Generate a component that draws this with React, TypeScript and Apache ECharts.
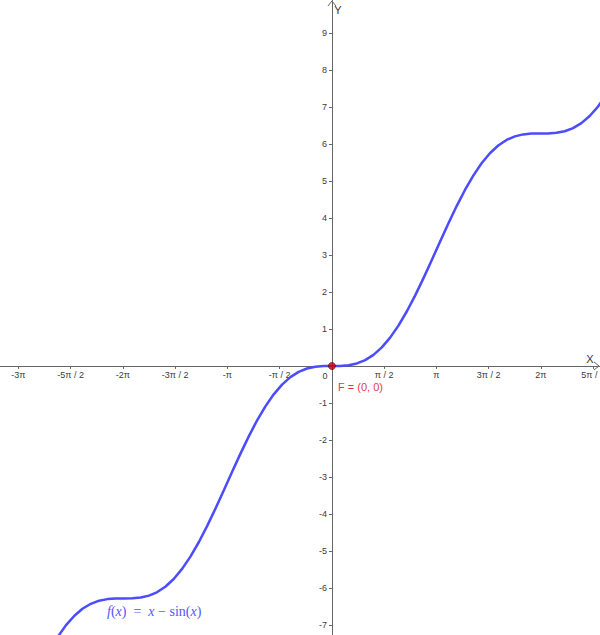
import React, { useEffect, useRef } from "react";
import * as echarts from "echarts";

const PI = Math.PI;

// Axis extents
const X_MIN = -9.98;
const X_MAX = 8.06;
const Y_MIN = -7.27;
const Y_MAX = 9.89;

// X ticks in multiples of pi
const X_TICK_VALUES = [-3 * PI, -2.5 * PI, -2 * PI, -1.5 * PI, -PI, -0.5 * PI, 0.5 * PI, PI, 1.5 * PI, 2 * PI, 2.5 * PI];
const X_TICK_LABELS = ["-3π", "-5π / 2", "-2π", "-3π / 2", "-π", "-π / 2", "π / 2", "π", "3π / 2", "2π", "5π / 2"];

const Y_TICK_VALUES = [-7, -6, -5, -4, -3, -2, -1, 1, 2, 3, 4, 5, 6, 7, 8, 9];

// Sampled points of the plotted curve f(x) = x - sin(x)
const CURVE_X = [
  -8.25, -8, -7.75, -7.5, -7.25, -7, -6.75, -6.5, -6.25, -6, -5.75, -5.5, -5.25, -5, -4.75, -4.5, -4.25, -4,
  -3.75, -3.5, -3.25, -3, -2.75, -2.5, -2.25, -2, -1.75, -1.5, -1.25, -1, -0.75, -0.5, -0.25, 0,
  0.25, 0.5, 0.75, 1, 1.25, 1.5, 1.75, 2, 2.25, 2.5, 2.75, 3, 3.25, 3.5, 3.75, 4,
  4.25, 4.5, 4.75, 5, 5.25, 5.5, 5.75, 6, 6.25, 6.5, 6.75, 7, 7.25, 7.5, 7.75, 8, 8.25,
];
const CURVE_Y = [
  -7.3277, -7.0106, -6.7554, -6.562, -6.4269, -6.343, -6.3, -6.2849, -6.2832, -6.2794, -6.2582, -6.2055, -6.1089,
  -5.9589, -5.7493, -5.4775, -5.145, -4.7568, -4.3216, -3.8508, -3.3582, -2.8589, -2.3683, -1.9015, -1.4719,
  -1.0907, -0.766, -0.5025, -0.301, -0.1585, -0.0684, -0.0206, -0.0026, 0,
  0.0026, 0.0206, 0.0684, 0.1585, 0.301, 0.5025, 0.766, 1.0907, 1.4719, 1.9015, 2.3683, 2.8589, 3.3582, 3.8508,
  4.3216, 4.7568, 5.145, 5.4775, 5.7493, 5.9589, 6.1089, 6.2055, 6.2582, 6.2794, 6.2832, 6.2849, 6.3, 6.343,
  6.4269, 6.562, 6.7554, 7.0106, 7.3277,
];

const POINT_F = [0, 0];
const POINT_LABEL = "F = (0, 0)";

const AXIS_COLOR = "#666666";
const LABEL_COLOR = "#3a3a3a";
const CURVE_COLOR = "#4b4bff";
const POINT_COLOR = "#d40000";

const W = 600;
const H = 635;

function labelForX(v: number): string {
  let best = 0;
  let bd = Infinity;
  X_TICK_VALUES.forEach((t, i) => {
    const d = Math.abs(t - v);
    if (d < bd) {
      bd = d;
      best = i;
    }
  });
  return X_TICK_LABELS[best];
}

export default function App() {
  const ref = useRef<HTMLDivElement>(null);

  useEffect(() => {
    if (!ref.current) return;
    const chart = echarts.init(ref.current, undefined, { renderer: "svg" });
    const font = "'Liberation Sans', Arial, sans-serif";
    // place the axes through the origin using offsets from the grid edges
    const xAxisOffset = -(H * (0 - Y_MIN)) / (Y_MAX - Y_MIN);
    const yAxisOffset = -(W * (0 - X_MIN)) / (X_MAX - X_MIN);
    chart.setOption({
      animation: false,
      backgroundColor: "#ffffff",
      grid: { left: 0, right: 0, top: 0, bottom: 0, containLabel: false, outerBoundsMode: "none" },
      xAxis: {
        type: "value",
        position: "bottom",
        offset: xAxisOffset,
        min: X_MIN,
        max: X_MAX,
        splitLine: { show: false },
        axisLine: { show: true, onZero: false, lineStyle: { color: AXIS_COLOR, width: 1 } },
        axisTick: { show: true, customValues: X_TICK_VALUES, length: 3, lineStyle: { color: AXIS_COLOR } },
        axisLabel: {
          show: true,
          customValues: X_TICK_VALUES,
          formatter: (v: number) => labelForX(v),
          color: LABEL_COLOR,
          fontSize: 9,
          fontFamily: font,
          margin: 5,
          showMinLabel: true,
          showMaxLabel: true,
        },
      },
      yAxis: {
        type: "value",
        position: "left",
        offset: yAxisOffset,
        min: Y_MIN,
        max: Y_MAX,
        splitLine: { show: false },
        axisLine: { show: true, onZero: false, lineStyle: { color: AXIS_COLOR, width: 1 } },
        axisTick: { show: true, customValues: Y_TICK_VALUES, length: 3, lineStyle: { color: AXIS_COLOR } },
        axisLabel: {
          show: true,
          customValues: Y_TICK_VALUES,
          color: LABEL_COLOR,
          fontSize: 9,
          fontFamily: font,
          margin: 5,
        },
      },
      series: [
        {
          type: "line",
          data: CURVE_X.map((x, i) => [x, CURVE_Y[i]]),
          showSymbol: false,
          smooth: false,
          clip: true,
          lineStyle: { color: CURVE_COLOR, width: 2.5, join: "round" },
          z: 3,
        },
        {
          type: "scatter",
          data: [POINT_F],
          symbolSize: 7,
          itemStyle: { color: POINT_COLOR, borderColor: "#5a0000", borderWidth: 0.8 },
          label: {
            show: true,
            formatter: POINT_LABEL,
            position: [10, 19],
            color: POINT_COLOR,
            fontSize: 11,
            fontFamily: font,
          },
          z: 5,
        },
      ],
    });

    const o = chart.convertToPixel({ gridIndex: 0 }, [0, 0]) as number[];
    const xe = chart.convertToPixel({ gridIndex: 0 }, [X_MAX, 0]) as number[];
    const ye = chart.convertToPixel({ gridIndex: 0 }, [0, Y_MAX]) as number[];
    chart.setOption({
      graphic: [
        {
          type: "polyline",
          shape: { points: [[xe[0] - 6, xe[1] - 4], [xe[0] - 1, xe[1]], [xe[0] - 6, xe[1] + 4]] },
          style: { stroke: AXIS_COLOR, fill: "none", lineWidth: 1 },
        },
        {
          type: "polyline",
          shape: { points: [[ye[0] - 4, ye[1] + 6], [ye[0], ye[1] + 1], [ye[0] + 4, ye[1] + 6]] },
          style: { stroke: AXIS_COLOR, fill: "none", lineWidth: 1 },
        },
        {
          type: "text",
          x: xe[0] - 10,
          y: xe[1] - 1,
          style: { text: "X", fill: LABEL_COLOR, fontSize: 11, fontFamily: font, align: "center", verticalAlign: "bottom" },
        },
        {
          type: "text",
          x: ye[0] + 6,
          y: ye[1] + 10,
          style: { text: "Y", fill: LABEL_COLOR, fontSize: 11, fontFamily: font, align: "center", verticalAlign: "middle" },
        },
        {
          type: "text",
          x: o[0] - 7,
          y: o[1] + 10,
          style: { text: "0", fill: LABEL_COLOR, fontSize: 9, fontFamily: font, align: "center", verticalAlign: "middle" },
        },
        {
          type: "text",
          left: 107,
          top: 604,
          style: {
            text: "{i|f}({i|x})  =  {i|x} − sin({i|x})",
            fill: "#5555ff",
            fontSize: 14,
            fontFamily: "'Liberation Serif', 'DejaVu Serif', serif",
            rich: {
              i: { fontStyle: "italic", fontSize: 14, fill: "#5555ff", fontFamily: "'Liberation Serif', serif" },
            },
          },
        },
      ],
    });

    return () => chart.dispose();
  }, []);

  return <div ref={ref} style={{ position: "absolute", left: 0, top: 0, width: W, height: H }} />;
}
